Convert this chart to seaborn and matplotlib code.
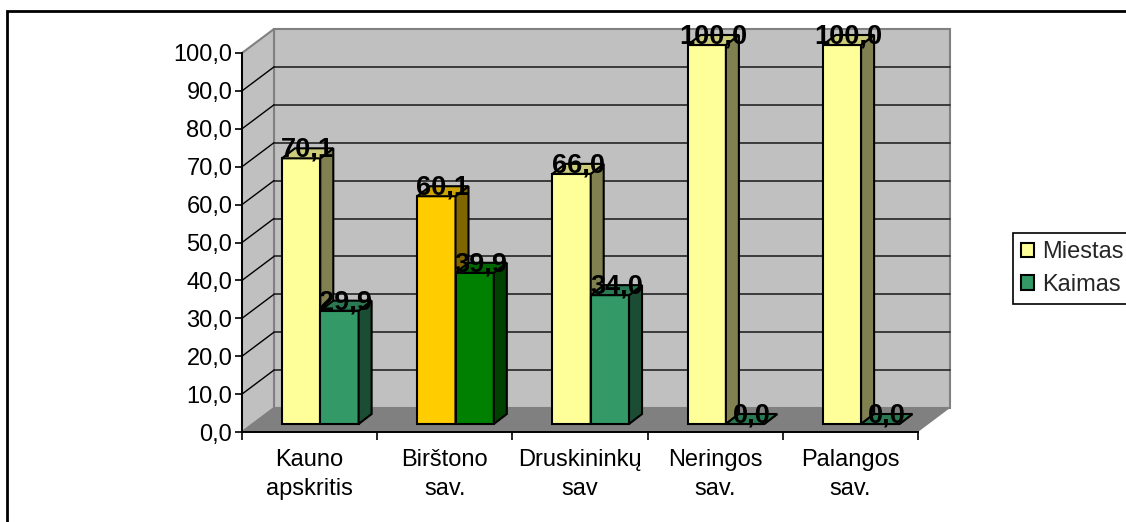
"""Miestas / Kaimas share by municipality, Excel-style 3D column chart."""

import matplotlib.pyplot as plt
import pandas as pd
import seaborn as sns
from matplotlib.patches import Polygon, Rectangle
from matplotlib.ticker import FuncFormatter
from matplotlib.transforms import Affine2D

CATEGORIES = ["Kauno\napskritis", "Birštono\nsav.", "Druskininkų\nsav", "Neringos\nsav.", "Palangos\nsav."]
SERIES = ["Miestas", "Kaimas"]
MIESTAS = [70.1, 60.1, 66.0, 100.0, 100.0]
KAIMAS = [29.9, 39.9, 34.0, 0.0, 0.0]
Y_TICKS = [0, 10, 20, 30, 40, 50, 60, 70, 80, 90, 100]
HIGHLIGHT = "Birštono\nsav."

# face colours: front, side, top
COLORS = {
    "Miestas": ("#FFFF99", "#808050", "#CCCC7A"),
    "Kaimas": ("#339966", "#1A4D33", "#297A52"),
}
HIGHLIGHT_COLORS = {
    "Miestas": ("#FFCC00", "#806600", "#CCA300"),
    "Kaimas": ("#008000", "#004000", "#006600"),
}

W, H = 1126, 522
PX_X = 676 / 5      # pixels per category
PX_Y = 379 / 100    # pixels per unit


def px(dx, dy):
    return dx / PX_X, dy / PX_Y


WALL_DEPTH = px(32, 24)
BAR_SHIFT = px(10.7, 8)
BAR_DEPTH = px(13, 10)


def fmt(v):
    return f"{v:.1f}".replace(".", ",")


def draw_walls(ax, n):
    dx, dy = WALL_DEPTH
    left, right = -0.5, n - 0.5
    ax.add_patch(Rectangle((left + dx, dy), n, 100, fc="#C0C0C0", ec="#808080",
                           lw=1.5, zorder=0.5, clip_on=False))
    ax.add_patch(Polygon([(left, 0), (left, 100), (left + dx, 100 + dy), (left + dx, dy)],
                         fc="#C0C0C0", ec="#808080", lw=1.5, zorder=0.5, clip_on=False))
    for v in Y_TICKS[1:-1]:
        ax.plot([left + dx, right + dx], [v + dy, v + dy], color="#303030", lw=1.3,
                zorder=0.6, clip_on=False)
        ax.plot([left, left + dx], [v, v + dy], color="black", lw=1.0, zorder=0.6, clip_on=False)
    ax.add_patch(Polygon([(left, 0), (right, 0), (right + dx, dy), (left + dx, dy)],
                         fc="#808080", ec="none", zorder=0.7, clip_on=False))


def main():
    sns.set_theme(style="white")
    plt.rcParams["font.family"] = ["Liberation Sans", "DejaVu Sans"]

    df = pd.DataFrame({
        "region": CATEGORIES * 2,
        "series": ["Miestas"] * len(CATEGORIES) + ["Kaimas"] * len(CATEGORIES),
        "value": MIESTAS + KAIMAS,
    })

    fig = plt.figure(figsize=(W / 100, H / 100), dpi=100)
    ax = fig.add_axes([242 / W, (H - 432) / H, 676 / W, 379 / H])
    ax.patch.set_visible(False)

    sns.barplot(data=df, x="region", y="value", hue="series", hue_order=SERIES,
                palette=[COLORS[s][0] for s in SERIES], width=0.567, saturation=1,
                errorbar=None, edgecolor="black", linewidth=1.5, legend=False, ax=ax)
    n = len(CATEGORIES)
    ax.set_xlim(-0.5, n - 0.5)
    ax.set_ylim(0, 100)
    draw_walls(ax, n)

    # shift bars into the middle of the floor depth and add side/top faces
    shift = Affine2D().translate(*BAR_SHIFT) + ax.transData
    bdx, bdy = BAR_DEPTH
    for s_i, (series, container) in enumerate(zip(SERIES, ax.containers)):
        for region, bar in zip(CATEGORIES, container):
            front, side, top = (HIGHLIGHT_COLORS if region == HIGHLIGHT else COLORS)[series]
            z = 3 + s_i
            bar.set_transform(shift)
            bar.set_clip_on(False)
            bar.set_facecolor(front)
            bar.set_zorder(z)
            x0, w, h = bar.get_x(), bar.get_width(), bar.get_height()
            faces = [
                ([(x0 + w, 0), (x0 + w + bdx, bdy), (x0 + w + bdx, h + bdy), (x0 + w, h)], side),
                ([(x0, h), (x0 + w, h), (x0 + w + bdx, h + bdy), (x0 + bdx, h + bdy)], top),
            ]
            for pts, color in faces:
                ax.add_patch(Polygon(pts, closed=True, fc=color, ec="black", lw=1.5,
                                     transform=shift, zorder=z, clip_on=False))
            ax.text(x0 + w / 2 + bdx / 2, h + 1.5 / PX_Y, fmt(h), transform=shift,
                    ha="center", va="baseline", fontsize=19.5, fontweight="bold",
                    color="black", zorder=10, clip_on=False)

    for side in ["top", "right"]:
        ax.spines[side].set_visible(False)
    for side in ["left", "bottom"]:
        ax.spines[side].set_color("black")
        ax.spines[side].set_linewidth(1.4)
        ax.spines[side].set_zorder(2)

    ax.set_yticks(Y_TICKS)
    ax.yaxis.set_major_formatter(FuncFormatter(lambda v, _: fmt(v)))
    ax.tick_params(axis="y", left=True, length=5, width=1.2, pad=2, labelsize=17,
                   colors="black")
    ax.set_xticks([i - 0.5 for i in range(n + 1)], labels=[""] * (n + 1))
    ax.set_xticks(range(n), labels=CATEGORIES, minor=True, linespacing=1.45)
    ax.tick_params(axis="x", which="major", bottom=True, length=6, width=1.2, color="black")
    ax.tick_params(axis="x", which="minor", bottom=True, length=0, pad=12, labelsize=17,
                   labelcolor="black")
    ax.set_xlabel("")
    ax.set_ylabel("")

    leg = ax.legend(handles=ax.containers, labels=SERIES, loc="upper left",
                    bbox_to_anchor=(1013 / W, 1 - 233 / H), bbox_transform=fig.transFigure,
                    frameon=True, fancybox=False, edgecolor="black", framealpha=1,
                    fontsize=17, handlelength=0.55, handleheight=0.55, handletextpad=0.35,
                    borderpad=0.35, labelspacing=0.45, borderaxespad=0)
    leg.get_frame().set_linewidth(1.2)

    # chart area border (runs off the right and bottom edges)
    fig.add_artist(Rectangle((7 / W, -0.1), 1.2, 1.1 - 11 / H, transform=fig.transFigure,
                             fill=False, ec="black", lw=2))

    fig.savefig("out.png", dpi=100)
    plt.close(fig)


if __name__ == "__main__":
    main()
